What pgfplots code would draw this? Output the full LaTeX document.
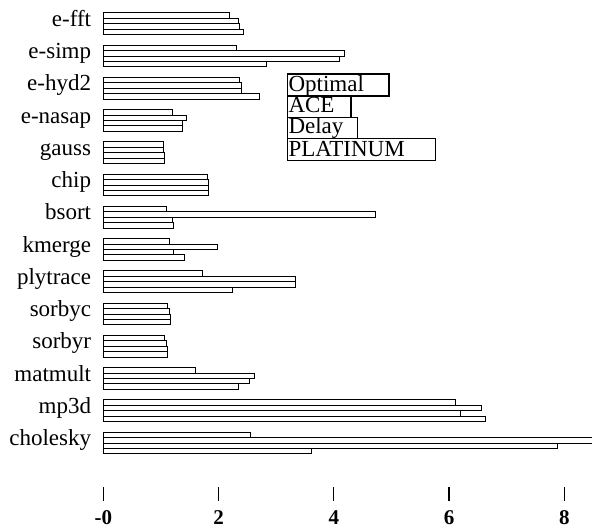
\documentclass[border=0pt]{standalone}
\usepackage{pgfplots}
\pgfplotsset{compat=1.18}
\usepackage{fontspec}
\setmainfont{Liberation Serif}
\begin{document}
\begin{tikzpicture}
\begin{axis}[
 scale only axis, width=488.7pt, height=501pt,
 xmin=0, xmax=8.48, ymin=-1.797, ymax=13.738,
 axis line style={draw=none},
 clip=false,
 xbar, bar width=5.4pt,
 xtick={0,2,4,6,8}, xticklabels={-0,2,4,6,8},
 xtick pos=bottom, xtick align=inside, major tick length=14pt,
 x tick style={line width=1.3pt, black},
 xticklabel style={font=\fontsize{21}{21}\selectfont\bfseries, inner sep=0pt, yshift=-9pt},
 ytick={0,...,13},
 yticklabels={cholesky,mp3d,matmult,sorbyr,sorbyc,plytrace,kmerge,bsort,chip,gauss,e-nasap,e-hyd2,e-simp,e-fft},
 y tick style={draw=none},
 yticklabel style={font=\fontsize{23}{23}\selectfont, inner sep=0pt, anchor=base east, xshift=2pt, yshift=-2.6pt},
 every axis plot/.append style={fill=white, draw=black, line width=1pt},
]
% Optimal
\addplot[bar shift=8.1pt] coordinates {
 (2.19,13) (2.31,12) (2.37,11) (1.20,10) (1.04,9) (1.81,8) (1.10,7)
 (1.15,6) (1.73,5) (1.12,4) (1.06,3) (1.60,2) (6.12,1) (2.55,0)};
% ACE
\addplot[bar shift=2.7pt] coordinates {
 (2.34,13) (4.18,12) (2.39,11) (1.45,10) (1.05,9) (1.82,8) (4.72,7)
 (1.98,6) (3.34,5) (1.15,4) (1.09,3) (2.62,2) (6.56,1) (8.48,0)};
% Delay
\addplot[bar shift=-2.7pt] coordinates {
 (2.37,13) (4.10,12) (2.40,11) (1.38,10) (1.06,9) (1.82,8) (1.20,7)
 (1.21,6) (3.34,5) (1.16,4) (1.11,3) (2.54,2) (6.20,1) (7.89,0)};
% PLATINUM
\addplot[bar shift=-8.1pt] coordinates {
 (2.44,13) (2.83,12) (2.71,11) (1.37,10) (1.06,9) (1.83,8) (1.21,7)
 (1.41,6) (2.25,5) (1.16,4) (1.11,3) (2.35,2) (6.64,1) (3.61,0)};
\coordinate (TL) at (rel axis cs:0,1);
\end{axis}
% legend boxes
\begin{scope}[line width=1.2pt]
\draw ([shift={(184pt,-74pt)}]TL) rectangle ([shift={(285.7pt,-96pt)}]TL);
\draw ([shift={(184pt,-96pt)}]TL) rectangle ([shift={(247.7pt,-117.3pt)}]TL);
\draw ([shift={(184pt,-117.3pt)}]TL) rectangle ([shift={(254pt,-138.3pt)}]TL);
\draw ([shift={(184pt,-138.3pt)}]TL) rectangle ([shift={(332.4pt,-160.7pt)}]TL);
\end{scope}
\begin{scope}[every node/.style={anchor=base west, inner sep=0pt, font=\fontsize{23}{23}\selectfont}]
\node at ([shift={(185pt,-91.7pt)}]TL) {Optimal};
\node at ([shift={(185pt,-113pt)}]TL) {ACE};
\node at ([shift={(185pt,-134pt)}]TL) {Delay};
\node at ([shift={(185pt,-156.4pt)}]TL) {PLATINUM};
\end{scope}
\pgfresetboundingbox
\path ([shift={(-103.3pt,-531pt)}]TL) rectangle ([shift={(488.7pt,0pt)}]TL);
\end{tikzpicture}
\end{document}
